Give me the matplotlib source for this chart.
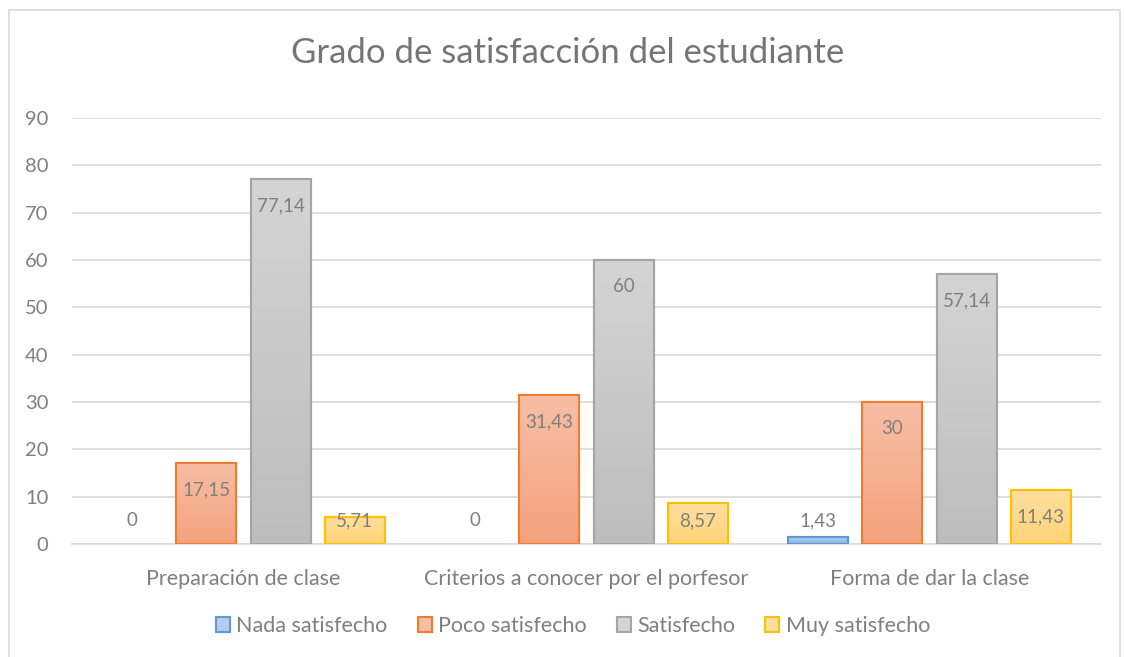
import numpy as np
import matplotlib
matplotlib.use("Agg")
import matplotlib.pyplot as plt
from matplotlib.patches import Patch, Rectangle
from matplotlib.colors import LinearSegmentedColormap

categories = ["Preparación de clase", "Criterios a conocer por el porfesor", "Forma de dar la clase"]
series_names = ["Nada satisfecho", "Poco satisfecho", "Satisfecho", "Muy satisfecho"]
nada = [0, 0, 1.43]
poco = [17.15, 31.43, 30]
satisfecho = [77.14, 60, 57.14]
muy = [5.71, 8.57, 11.43]
labels_nada = ["0", "0", "1,43"]
labels_poco = ["17,15", "31,43", "30"]
labels_sat = ["77,14", "60", "57,14"]
labels_muy = ["5,71", "8,57", "11,43"]
yticks = [0, 10, 20, 30, 40, 50, 60, 70, 80, 90]
title = "Grado de satisfacción del estudiante"

series = [nada, poco, satisfecho, muy]
series_labels = [labels_nada, labels_poco, labels_sat, labels_muy]
edge_colors = ["#5B9BD5", "#ED7D31", "#A5A5A5", "#FFC000"]
top_colors = ["#B4CDEB", "#F7BEA5", "#D4D4D4", "#FFDFA0"]
bot_colors = ["#8FB4E3", "#F4A27E", "#BDBDBD", "#FFD378"]

FONT = "Lato"
TXT = "#7F7F7F"
plt.rcParams["font.family"] = [FONT, "DejaVu Sans"]

fig = plt.figure(figsize=(11.26, 6.57), dpi=100)
ax = fig.add_axes([72/1126, 113/657, 1029/1126, 426/657])

x = np.arange(len(categories))
w = 0.175
step = 0.216
for i, (vals, labs) in enumerate(zip(series, series_labels)):
    pos = x + (i - 1.5) * step
    bars = ax.bar(pos, vals, width=w, color=bot_colors[i], edgecolor=edge_colors[i],
                  linewidth=[1.5 if v > 0 else 0 for v in vals], zorder=3)
    cmap = LinearSegmentedColormap.from_list("g%d" % i, [top_colors[i], bot_colors[i]])
    for b, v, lab in zip(bars, vals, labs):
        if v > 0:
            grad = np.linspace(0, 1, 100).reshape(-1, 1)
            im = ax.imshow(grad, cmap=cmap, aspect="auto", origin="upper",
                           extent=[b.get_x(), b.get_x() + b.get_width(), 0, v], zorder=3.5)
            im.set_clip_path(b)
            ax.add_patch(Rectangle((b.get_x(), 0), b.get_width(), v, fill=False,
                                   edgecolor=edge_colors[i], linewidth=1.5, zorder=4))
        ly = max(v - 5.7, 4.9)
        ax.text(b.get_x() + b.get_width() / 2, ly, lab, ha="center", va="center",
                fontsize=13.5, color=TXT, zorder=5)

ax.set_xlim(-0.5, 2.5)
ax.set_ylim(0, 90)
ax.set_yticks(yticks)
ax.set_yticklabels([str(t) for t in yticks])
ax.set_xticks(x)
ax.set_xticklabels(categories)
ax.tick_params(axis="both", length=0, labelcolor=TXT)
ax.tick_params(axis="y", pad=17, labelsize=14.5)
ax.tick_params(axis="x", pad=18, labelsize=15.5)
ax.grid(axis="y", color="#D9D9D9", linewidth=1.2, zorder=0)
ax.set_axisbelow(True)
for s in ["top", "right", "left"]:
    ax.spines[s].set_visible(False)
ax.spines["bottom"].set_color("#D9D9D9")
ax.spines["bottom"].set_linewidth(1.2)
ax.spines["bottom"].set_zorder(2)

fig.text(568/1126, 1 - 53/657, title, ha="center", va="center", fontsize=25, color="#757575")

handles = [Patch(facecolor=top_colors[i], edgecolor=edge_colors[i], linewidth=1.5) for i in range(4)]
fig.legend(handles, series_names, loc="center", bbox_to_anchor=(573/1126, 1 - 626/657),
           ncol=4, frameon=False, fontsize=15.5, labelcolor=TXT, handlelength=0.65,
           handleheight=0.65, handletextpad=0.3, columnspacing=1.4)

fig.add_artist(Rectangle((9/1126, -0.01), (1120 - 9)/1126, 1 - 10/657 + 0.01,
                         transform=fig.transFigure, fill=False, edgecolor="#D9D9D9", linewidth=1.2))

fig.savefig("out.png", dpi=100)
